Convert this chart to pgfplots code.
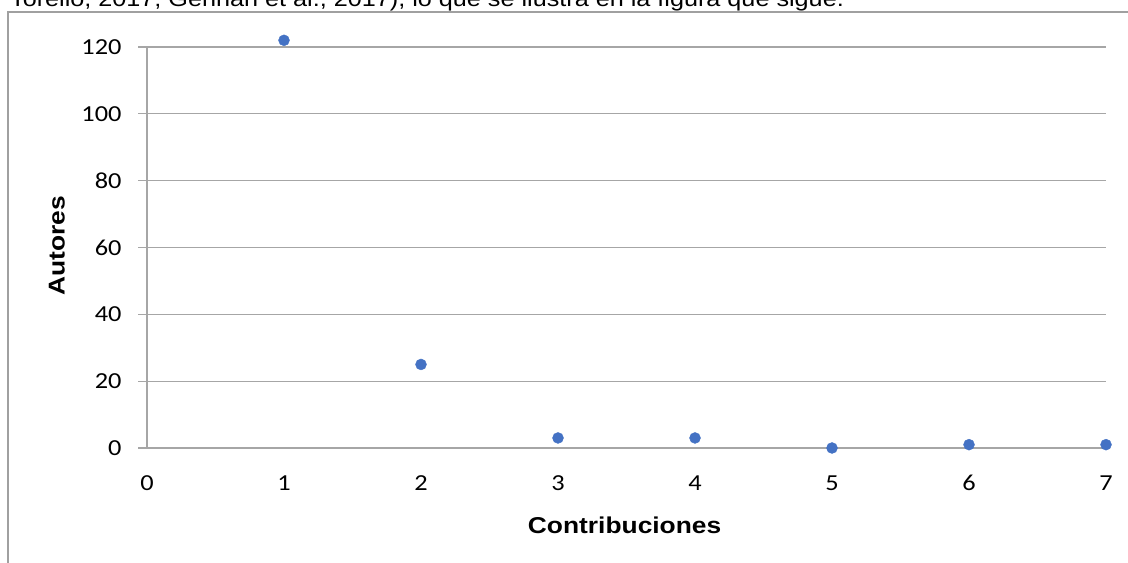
\documentclass[border=0pt]{standalone}
\usepackage{pgfplots}
\pgfplotsset{compat=1.18}
\usepackage{fontspec}
\setmainfont{Liberation Sans}
\newfontfamily\calibri{Carlito}
\definecolor{punto}{HTML}{4472C4}
\definecolor{rejilla}{HTML}{A6A6A6}
\definecolor{marco}{HTML}{A0A0A0}

\pgfplotstableread{
x y
1 122
2 25
3 3
4 3
5 0
6 1
7 1
}\autores

\begin{document}
\begin{tikzpicture}[x=1bp,y=1bp]
\clip (0,0) rectangle (1128,563);
\draw[marco, line width=1.2bp] (8,-5) -- (8,551) -- (1135,551);
\node[anchor=base west, inner sep=0] at (10,556)
  {\scalebox{1.15}[1]{\fontsize{22}{22}\selectfont Torello, 2017; Gennan et al., 2017), lo que se ilustra en la figura que sigue.}};
\begin{axis}[
  at={(147bp,115bp)}, anchor=south west,
  scale only axis, width=959bp, height=401bp,
  xmin=0, xmax=7, ymin=0, ymax=120,
  xtick={0,...,7}, ytick={0,20,...,120},
  axis x line*=bottom, axis y line*=left,
  axis line style={rejilla, line width=1.2bp, -},
  ymajorgrids, grid style={rejilla, line width=1.2bp},
  tick align=outside, major tick length=9bp,
  xtick style={draw=none},
  ytick style={rejilla, line width=1.2bp},
  /pgf/number format/assume math mode=true,
  xticklabel={\scalebox{1.15}[1]{\calibri\fontsize{23}{23}\selectfont\pgfmathprintnumber{\tick}}},
  yticklabel={\scalebox{1.15}[1]{\calibri\fontsize{23}{23}\selectfont\pgfmathprintnumber{\tick}}},
  xticklabel style={yshift=-15bp},
  yticklabel style={xshift=-13bp},
  xlabel={\scalebox{1.15}[1]{\fontsize{23}{23}\selectfont\bfseries Contribuciones}},
  ylabel={\scalebox{1.15}[1]{\fontsize{23}{23}\selectfont\bfseries Autores}},
  xlabel style={at={(axis description cs:0.498,-0.192)}, anchor=center},
  ylabel style={at={(axis description cs:-0.094,0.505)}, anchor=center},
  clip=false,
]
\addplot[only marks, mark=*, mark size=5.5bp, mark options={draw=punto, fill=punto}]
  table[x=x, y=y] {\autores};
\end{axis}
\end{tikzpicture}
\end{document}
